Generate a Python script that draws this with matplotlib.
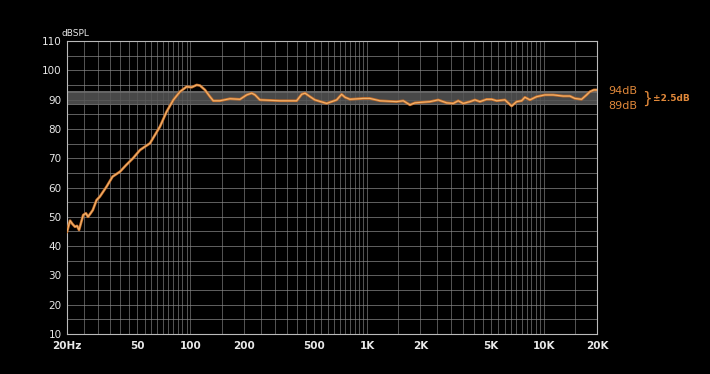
import matplotlib
matplotlib.use("Agg")
import matplotlib.pyplot as plt
import numpy as np

# response curve (Hz, dBSPL)
freq = [20, 20.8, 21.5, 22.2, 22.8, 23.4, 24.7, 25.6, 26.3, 27.2, 28, 29.4, 30.7,
        33.5, 36.2, 39.9, 43.3, 47.3, 51.8, 59, 67.2, 73.3, 80, 87.2, 95.1, 101.6,
        108.4, 113.2, 120.8, 128.9, 134.6, 146.8, 167.3, 190.6, 208, 222, 232, 247,
        321, 399, 426, 445, 475, 506, 590, 672, 717, 749, 799, 950, 1037, 1181,
        1468, 1601, 1747, 1865, 2267, 2525, 2817, 3070, 3277, 3498, 3818, 4075,
        4349, 4743, 5066, 5408, 6024, 6573, 7015, 7488, 7816, 8343, 9104, 10145,
        11300, 12877, 14043, 14991, 16356, 17460, 18230, 19200, 20000]
spl = [44.9, 48.7, 47.5, 46.6, 46.9, 45.5, 50.6, 51.2, 50.0, 51.2, 52.3, 55.7, 56.9,
       60.3, 63.7, 65.4, 67.7, 70.0, 72.8, 75.1, 80.8, 85.9, 89.9, 92.7, 94.4, 94.2,
       95.0, 94.8, 93.3, 91.0, 89.6, 89.6, 90.3, 90.1, 91.6, 92.2, 91.6, 89.9,
       89.6, 89.6, 91.8, 92.2, 91.0, 89.9, 88.7, 89.9, 91.8, 90.8, 90.1, 90.4, 90.4,
       89.6, 89.3, 89.6, 88.2, 88.9, 89.3, 89.9, 88.9, 88.7, 89.6, 88.7, 89.3, 89.9,
       89.3, 90.1, 90.1, 89.6, 89.9, 87.8, 89.3, 89.6, 90.8, 89.9, 91.0, 91.6,
       91.6, 91.2, 91.2, 90.4, 90.1, 91.6, 92.7, 93.3, 93.3]

xticks = [20, 50, 100, 200, 500, 1000, 2000, 5000, 10000, 20000]
xlabels = ["20Hz", "50", "100", "200", "500", "1K", "2K", "5K", "10K", "20K"]
yticks = list(range(10, 111, 10))
band_lo, band_hi = 88, 93

orange = "#e0883a"
fig = plt.figure(figsize=(7.1, 3.74), dpi=100, facecolor="black")
ax = fig.add_axes([67 / 710, 40 / 374, 530 / 710, 293 / 374])
ax.set_facecolor("black")
ax.set_xscale("log")
ax.set_xlim(20, 20000)
ax.set_ylim(10, 110)

# grid: 5 dB steps, 5/50/500/5000 Hz steps
for y in range(15, 110, 5):
    ax.axhline(y, color="#8c8c8c", lw=0.6, alpha=0.8, zorder=1)
vx = list(range(25, 100, 5)) + list(range(100, 1000, 50)) + \
    list(range(1000, 10000, 500)) + [10000, 15000]
for x in vx:
    ax.axvline(x, color="#8c8c8c", lw=0.6, alpha=0.7, zorder=1)

# tolerance band
ax.axhspan(band_lo, band_hi, color="#555555", alpha=0.85, zorder=2, lw=0)
ax.axhspan(band_hi - 0.6, band_hi, color="#7a7a7a", alpha=0.6, zorder=2, lw=0)
ax.axhspan(band_lo, band_lo + 0.6, color="#7a7a7a", alpha=0.6, zorder=2, lw=0)

ax.plot(freq, spl, color="#c8702a", lw=1.9, zorder=4, solid_joinstyle="round")
ax.plot(freq, spl, color="#f2b36e", lw=0.8, zorder=5, solid_joinstyle="round")

for s in ax.spines.values():
    s.set_color("#bbbbbb")
    s.set_linewidth(0.8)

ax.set_xticks(xticks)
ax.set_xticklabels(xlabels, fontsize=7.5, fontweight="bold", color="#e8e8e8")
ax.xaxis.set_minor_locator(matplotlib.ticker.NullLocator())
ax.set_yticks(yticks)
ax.set_yticklabels([str(v) for v in yticks], fontsize=7.5, color="#e8e8e8")
ax.tick_params(length=0)
ax.tick_params(axis="x", pad=5)
ax.tick_params(axis="y", pad=4)

fig.text(62 / 710, 1 - 33 / 374, "dBSPL", fontsize=6.5, color="#e8e8e8",
         ha="left", va="center")

fig.text(608 / 710, 1 - 91 / 374, "94dB", fontsize=8, color=orange, va="center")
fig.text(608 / 710, 1 - 106 / 374, "89dB", fontsize=8, color=orange, va="center")
fig.text(642 / 710, 1 - 98.5 / 374, "}", fontsize=11, color=orange, va="center")
fig.text(653 / 710, 1 - 98.5 / 374, "±2.5dB", fontsize=6.5, color=orange,
         va="center", fontweight="bold")

fig.savefig("out.png", dpi=100, facecolor="black")
